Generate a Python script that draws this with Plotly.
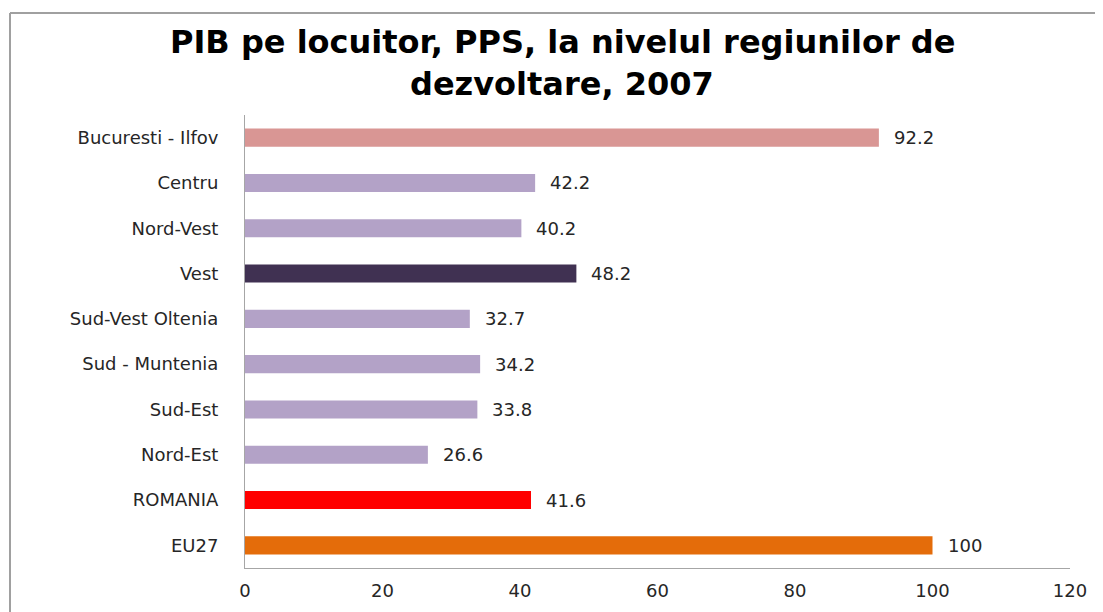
import plotly.graph_objects as go

categories = ["Bucuresti - Ilfov", "Centru", "Nord-Vest", "Vest", "Sud-Vest Oltenia",
              "Sud - Muntenia", "Sud-Est", "Nord-Est", "ROMANIA", "EU27"]
values = [92.2, 42.2, 40.2, 48.2, 32.7, 34.2, 33.8, 26.6, 41.6, 100]
value_labels = ["92.2", "42.2", "40.2", "48.2", "32.7", "34.2", "33.8", "26.6", "41.6", "100"]
colors = ["#D99694", "#B3A2C7", "#B3A2C7", "#403152", "#B3A2C7",
          "#B3A2C7", "#B3A2C7", "#B3A2C7", "#FF0000", "#E46C0A"]
x_ticks = [0, 20, 40, 60, 80, 100, 120]
title_lines = ["PIB pe locuitor, PPS, la nivelul regiunilor de", "dezvoltare, 2007"]

FONT = "'DejaVu Sans', Verdana, sans-serif"
TXT = "#262626"

W, H = 1103, 612
ml, mr, mt, mb = 237, 41, 107, 52
pw, ph = W - ml - mr, H - mt - mb

def px_x(p):
    return (p - ml) / pw

def px_y(p):
    return (H - mb - p) / ph

fig = go.Figure()
fig.add_trace(go.Bar(
    y=categories, x=values, orientation="h",
    marker=dict(color=colors, line=dict(width=0)),
    width=0.4, hoverinfo="skip",
))

for c, v, t in zip(categories, values, value_labels):
    fig.add_annotation(x=v, y=c, text=t, showarrow=False, xanchor="left",
                       xshift=13, font=dict(family=FONT, size=18, color=TXT))

# title, two lines placed separately for controlled line spacing
for line, ypix in zip(title_lines, [34, 76]):
    fig.add_annotation(x=px_x(554), y=px_y(ypix), xref="paper", yref="paper",
                       text=line, showarrow=False, xanchor="center", yanchor="middle",
                       font=dict(family=FONT, size=32, color="#000000", weight="bold"))

fig.update_layout(
    width=W, height=H,
    margin=dict(l=ml, r=mr, t=mt, b=mb),
    paper_bgcolor="white", plot_bgcolor="white",
    showlegend=False,
    xaxis=dict(range=[0, 120], tickvals=x_ticks, showgrid=False, zeroline=False,
               showline=True, linecolor="#A6A6A6", linewidth=1, ticks="",
               ticklabelstandoff=6,
               tickfont=dict(family=FONT, size=18, color=TXT),
               fixedrange=True),
    yaxis=dict(autorange="reversed", showgrid=False, zeroline=False,
               showline=True, linecolor="#A6A6A6", linewidth=1, ticks="",
               ticklabelstandoff=22,
               tickfont=dict(family=FONT, size=18, color=TXT),
               fixedrange=True),
)

# outer border (left and top)
fig.add_shape(type="line", xref="paper", yref="paper",
              x0=px_x(2), x1=px_x(2), y0=px_y(5), y1=px_y(620),
              line=dict(color="#A0A0A0", width=2))
fig.add_shape(type="line", xref="paper", yref="paper",
              x0=px_x(2), x1=px_x(1110), y0=px_y(5), y1=px_y(5),
              line=dict(color="#A0A0A0", width=2))

fig.write_html("out.html")
